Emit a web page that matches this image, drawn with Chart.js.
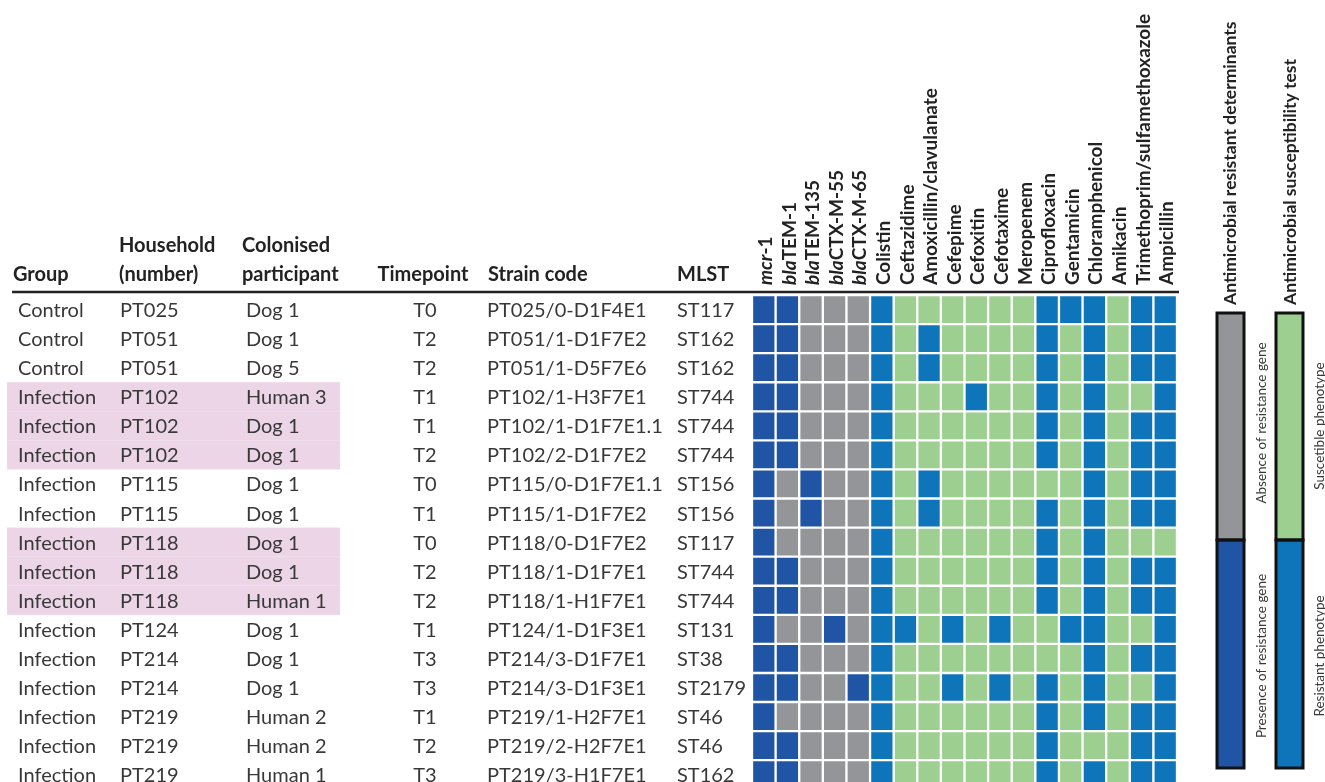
<!DOCTYPE html>
<html>
<head>
<meta charset="utf-8">
<script src="https://cdn.jsdelivr.net/npm/chart.js@4.4.1/dist/chart.umd.min.js"></script>
<style>
  body { margin: 0; background: #fff; }
  #caixa { width: 1325px; height: 782px; position: relative; }
</style>
</head>
<body>
<div id="caixa"><canvas id="grafico"></canvas></div>
<script>
// colunas do mapa (genes + antimicrobianos)
const colunas = ["mcr-1", "blaTEM-1", "blaTEM-135", "blaCTX-M-55", "blaCTX-M-65",
    "Colistin", "Ceftazidime", "Amoxicillin/clavulanate", "Cefepime", "Cefoxitin",
    "Cefotaxime", "Meropenem", "Ciprofloxacin", "Gentamicin", "Chloramphenicol",
    "Amikacin", "Trimethoprim/sulfamethoxazole", "Ampicillin"];

const grupos = ["Control", "Control", "Control", "Infection", "Infection", "Infection",
    "Infection", "Infection", "Infection", "Infection", "Infection", "Infection",
    "Infection", "Infection", "Infection", "Infection", "Infection"];
const domicilios = ["PT025", "PT051", "PT051", "PT102", "PT102", "PT102", "PT115", "PT115",
    "PT118", "PT118", "PT118", "PT124", "PT214", "PT214", "PT219", "PT219", "PT219"];
const participantes = ["Dog 1", "Dog 1", "Dog 5", "Human 3", "Dog 1", "Dog 1", "Dog 1", "Dog 1",
    "Dog 1", "Dog 1", "Human 1", "Dog 1", "Dog 1", "Dog 1", "Human 2", "Human 2", "Human 1"];
const tempos = ["T0", "T2", "T2", "T1", "T1", "T2", "T0", "T1", "T0", "T2", "T2", "T1",
    "T3", "T3", "T1", "T2", "T3"];
const cepas = ["PT025/0-D1F4E1", "PT051/1-D1F7E2", "PT051/1-D5F7E6", "PT102/1-H3F7E1",
    "PT102/1-D1F7E1.1", "PT102/2-D1F7E2", "PT115/0-D1F7E1.1", "PT115/1-D1F7E2",
    "PT118/0-D1F7E2", "PT118/1-D1F7E1", "PT118/1-H1F7E1", "PT124/1-D1F3E1",
    "PT214/3-D1F7E1", "PT214/3-D1F3E1", "PT219/1-H2F7E1", "PT219/2-H2F7E1", "PT219/3-H1F7E1"];
const mlst = ["ST117", "ST162", "ST162", "ST744", "ST744", "ST744", "ST156", "ST156",
    "ST117", "ST744", "ST744", "ST131", "ST38", "ST2179", "ST46", "ST46", "ST162"];

// 1 = presenca do gene, 0 = ausencia
const genes = ["11000", "11000", "11000", "11000", "11000", "11000", "10100", "10100",
    "10000", "11000", "11000", "10010", "11000", "11001", "10000", "11000", "11000"];
// R = resistente, S = sensivel
const antibiograma = ["RSSSSSSRRRSRR", "RSRSSSSRSRSRR", "RSRSSSSRSRSRR", "RSSSRSSRSRSSR",
    "RSSSSSSRSRSRR", "RSSSSSSRSRSRR", "RSRSSSSSSRSRR", "RSRSSSSRSRSRR",
    "RSSSSSSRSRSSS", "RSSSSSSRSRSRR", "RSSSSSSRSRSRR", "RRSRSRSSRRSSR",
    "RSSSSSSSSRSRR", "RSSRSRSRSRSSR", "RSSSSSSRSRSRR", "RSSSSSSRSSSRR", "RSSSSSSRSRSRR"];

const linhasDestacadas = [3, 4, 5, 8, 9, 10];

const cores = { "1": "#2054a4", "0": "#939598", "R": "#0f75bb", "S": "#9ccf90" };
const corTexto = "#383838";
const fonte = "Lato";

const datasets = cepas.map((cepa, i) => {
    const estados = (genes[i] + antibiograma[i]).split("");
    return {
        label: cepa,
        data: colunas.map(() => [i, i + 1]),
        backgroundColor: estados.map(e => cores[e]),
        borderColor: "#ffffff",
        borderWidth: 1.5,
        borderSkipped: false,
        grouped: false,
        barPercentage: 1,
        categoryPercentage: 1
    };
});

const pluginTabela = {
    id: "tabela",
    beforeDatasetsDraw(chart) {
        const ctx = chart.ctx;
        const y = chart.scales.y;
        ctx.save();
        ctx.fillStyle = "#ecd5e7";
        linhasDestacadas.forEach(i => {
            const topo = y.getPixelForValue(i);
            const base = y.getPixelForValue(i + 1);
            ctx.fillRect(7, topo, 333, base - topo);
        });
        ctx.restore();
    },
    afterDraw(chart) {
        const ctx = chart.ctx;
        const x = chart.scales.x;
        const y = chart.scales.y;
        ctx.save();

        // cabecalho
        ctx.fillStyle = "#222222";
        ctx.font = `bold 20px ${fonte}`;
        ctx.textBaseline = "alphabetic";
        ctx.textAlign = "left";
        ctx.fillText("Group", 13, 281);
        ctx.fillText("Household", 119, 252);
        ctx.fillText("(number)", 119, 281);
        ctx.fillText("Colonised", 242, 252);
        ctx.fillText("participant", 242, 281);
        ctx.textAlign = "center";
        ctx.fillText("Timepoint", 423, 281);
        ctx.textAlign = "left";
        ctx.fillText("Strain code", 488, 281);
        ctx.fillText("MLST", 677, 281);

        ctx.strokeStyle = "#222222";
        ctx.lineWidth = 2.5;
        ctx.beginPath();
        ctx.moveTo(12, 292);
        ctx.lineTo(1179, 292);
        ctx.stroke();

        // linhas da tabela
        ctx.fillStyle = corTexto;
        ctx.font = `20px ${fonte}`;
        ctx.textBaseline = "middle";
        cepas.forEach((cepa, i) => {
            const cy = y.getPixelForValue(i + 0.5) + 1;
            ctx.textAlign = "left";
            ctx.fillText(grupos[i], 18, cy);
            ctx.fillText(domicilios[i], 120, cy);
            ctx.fillText(participantes[i], 246, cy);
            ctx.fillText(cepa, 487, cy);
            ctx.fillText(mlst[i], 677, cy);
            ctx.textAlign = "center";
            ctx.fillText(tempos[i], 425, cy);
        });

        // nomes das colunas, girados
        ctx.fillStyle = "#222222";
        colunas.forEach((nome, k) => {
            const m = nome.match(/^(mcr|bla)(.*)$/);
            const partes = m ? [[m[1], "italic bold"], [m[2], "bold"]] : [[nome, "bold"]];
            ctx.save();
            ctx.translate(x.getPixelForValue(k) + 2, 285);
            ctx.rotate(-Math.PI / 2);
            ctx.textAlign = "left";
            ctx.textBaseline = "middle";
            let pos = 0;
            partes.forEach(([texto, estilo]) => {
                ctx.font = `${estilo} 19px ${fonte}`;
                ctx.fillText(texto, pos, 0);
                pos += ctx.measureText(texto).width;
            });
            ctx.restore();
        });

        // legenda
        const barra = (x0, corCima, corBaixo) => {
            ctx.fillStyle = corCima;
            ctx.fillRect(x0, 313, 27, 227);
            ctx.fillStyle = corBaixo;
            ctx.fillRect(x0, 540, 27, 228);
            ctx.strokeStyle = "#111111";
            ctx.lineWidth = 3;
            ctx.strokeRect(x0, 313, 27, 227);
            ctx.strokeRect(x0, 540, 27, 228);
        };
        barra(1217, cores["0"], cores["1"]);
        barra(1276, cores["S"], cores["R"]);

        const vertical = (texto, cx, cy, fonteTxt, alinhar) => {
            ctx.save();
            ctx.translate(cx, cy);
            ctx.rotate(-Math.PI / 2);
            ctx.font = fonteTxt;
            ctx.textAlign = alinhar;
            ctx.textBaseline = "middle";
            ctx.fillText(texto, 0, 0);
            ctx.restore();
        };
        ctx.fillStyle = "#222222";
        vertical("Antimicrobial resistant determinants", 1230, 305, `bold 17.5px ${fonte}`, "left");
        vertical("Antimicrobial susceptibility test", 1290, 305, `bold 17.5px ${fonte}`, "left");
        ctx.fillStyle = corTexto;
        vertical("Absence of resistance gene", 1262, 423, `13.5px ${fonte}`, "center");
        vertical("Presence of resistance gene", 1262, 656, `13.5px ${fonte}`, "center");
        vertical("Suscetible phenotype", 1320, 426, `13.5px ${fonte}`, "center");
        vertical("Resistant phenotype", 1320, 656, `13.5px ${fonte}`, "center");

        ctx.restore();
    }
};

new Chart(document.querySelector("#grafico"), {
    type: "bar",
    data: { labels: colunas, datasets: datasets },
    options: {
        responsive: true,
        maintainAspectRatio: false,
        animation: false,
        layout: { padding: { left: 752, right: 148, top: 295, bottom: 0 } },
        plugins: { legend: { display: false }, tooltip: { enabled: false } },
        scales: {
            x: { type: "category", display: false },
            y: { type: "linear", display: false, reverse: true, min: 0, max: 16.75 }
        }
    },
    plugins: [pluginTabela]
});
</script>
</body>
</html>
